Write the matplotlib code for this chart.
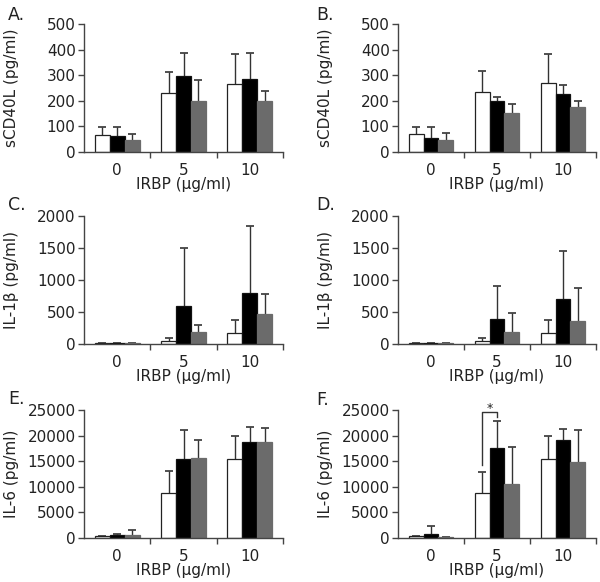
import matplotlib
matplotlib.use("Agg")
import matplotlib.pyplot as plt
import numpy as np

plt.rcParams['font.family'] = ['DejaVu Sans']

doses = ["0", "5", "10"]
xlabel_text = "IRBP (µg/ml)"

# Panel A
a_white = [68, 230, 266]
a_white_sd = [29, 83, 115]
a_black = [61, 295, 287]
a_black_sd = [36, 91, 99]
a_gray = [47, 201, 201]
a_gray_sd = [23, 81, 37]

# Panel B
b_white = [70, 233, 270]
b_white_sd = [26, 85, 114]
b_black = [53, 200, 228]
b_black_sd = [46, 14, 34]
b_gray = [46, 154, 175]
b_gray_sd = [29, 34, 26]

# Panel C
c_white = [15, 45, 171]
c_white_sd = [0, 45, 198]
c_black = [15, 597, 795]
c_black_sd = [0, 909, 1049]
c_gray = [10, 187, 468]
c_gray_sd = [0, 114, 311]

# Panel D
d_white = [15, 45, 171]
d_white_sd = [0, 43, 198]
d_black = [12, 390, 706]
d_black_sd = [0, 509, 743]
d_gray = [8, 187, 364]
d_gray_sd = [0, 296, 504]

# Panel E
e_white = [300, 8730, 15350]
e_white_sd = [0, 4260, 4530]
e_black = [550, 15420, 18700]
e_black_sd = [150, 5770, 3020]
e_gray = [500, 15620, 18830]
e_gray_sd = [1000, 3470, 2560]

# Panel F
f_white = [300, 8720, 15470]
f_white_sd = [0, 4250, 4520]
f_black = [800, 17560, 19200]
f_black_sd = [1500, 5370, 2100]
f_gray = [150, 10620, 14940]
f_gray_sd = [0, 7070, 6230]

# significance bracket in F (white vs black at dose 5)
f_bracket_y = [14260, 24610, 24610, 23630]
f_star = "*"

panels = [
    ("A.", "sCD40L (pg/ml)", [0, 100, 200, 300, 400, 500],
     (a_white, a_white_sd), (a_black, a_black_sd), (a_gray, a_gray_sd)),
    ("B.", "sCD40L (pg/ml)", [0, 100, 200, 300, 400, 500],
     (b_white, b_white_sd), (b_black, b_black_sd), (b_gray, b_gray_sd)),
    ("C.", "IL-1β (pg/ml)", [0, 500, 1000, 1500, 2000],
     (c_white, c_white_sd), (c_black, c_black_sd), (c_gray, c_gray_sd)),
    ("D.", "IL-1β (pg/ml)", [0, 500, 1000, 1500, 2000],
     (d_white, d_white_sd), (d_black, d_black_sd), (d_gray, d_gray_sd)),
    ("E.", "IL-6 (pg/ml)", [0, 5000, 10000, 15000, 20000, 25000],
     (e_white, e_white_sd), (e_black, e_black_sd), (e_gray, e_gray_sd)),
    ("F.", "IL-6 (pg/ml)", [0, 5000, 10000, 15000, 20000, 25000],
     (f_white, f_white_sd), (f_black, f_black_sd), (f_gray, f_gray_sd)),
]

W, H = 600, 582
fig = plt.figure(figsize=(6, 5.82), dpi=100)

col_x = [(84, 283), (398, 596)]
row_y = [(24, 152), (216, 344), (410, 538)]
label_pos = [(8, 15), (316, 15), (8, 205), (316, 205), (8, 399), (316, 400)]

axis_col = "#444444"
text_col = "#222222"
err_col = "#333333"
bar_w = 0.225
offsets = [-bar_w, 0, bar_w]
styles = [dict(color="white", edgecolor="#222222"),
          dict(color="black", edgecolor="#111111"),
          dict(color="#6b6b6b", edgecolor="#6b6b6b")]

axes = []
for i, (lab, ylab, yticks, *series) in enumerate(panels):
    c = i % 2
    r = i // 2
    x0, x1 = col_x[c]
    yt, yb = row_y[r]
    ax = fig.add_axes([x0 / W, 1 - yb / H, (x1 - x0) / W, (yb - yt) / H])
    axes.append(ax)
    x = np.arange(len(doses))
    for k, (vals, sd) in enumerate(series):
        xs = x + offsets[k]
        v = np.asarray(vals, float)
        tops = v + np.asarray(sd, float)
        ax.vlines(xs, v, tops, color=err_col, lw=1.0, zorder=1)
        ax.plot(xs, tops, ls="none", marker="_", ms=5.5, mew=1.2,
                color=err_col, zorder=1)
        ax.bar(xs, vals, width=bar_w, linewidth=0.9, zorder=2, **styles[k])
    ax.set_xlim(-0.5, 2.5)
    ax.set_ylim(0, yticks[-1])
    ax.set_yticks(yticks)
    ax.set_yticklabels([str(t) for t in yticks], fontsize=11, color=text_col)
    ax.set_xticks([0.5, 1.5, 2.5])
    ax.set_xticklabels([])
    ax.set_xticks(x, minor=True)
    ax.set_xticklabels(doses, minor=True, fontsize=11, color=text_col)
    ax.tick_params(axis="x", which="minor", length=0, pad=8)
    ax.tick_params(axis="x", which="major", length=4, width=1, color=axis_col, direction="out")
    ax.tick_params(axis="y", length=4, width=1, color=axis_col, direction="out", pad=2)
    for s in ["top", "right"]:
        ax.spines[s].set_visible(False)
    for s in ["left", "bottom"]:
        ax.spines[s].set_color(axis_col)
        ax.spines[s].set_linewidth(1.0)
    ax.set_xlabel(xlabel_text, fontsize=11, color=text_col, labelpad=-1)
    ax.set_ylabel(ylab, fontsize=11, color=text_col, labelpad=2)
    ax.yaxis.set_label_coords(((19 if c == 0 else 333) - x0) / (x1 - x0), 0.5)
    fig.text(label_pos[i][0] / W, 1 - label_pos[i][1] / H, lab, fontsize=12.5,
             color=text_col, ha="left", va="center")

# bracket in F
axF = axes[5]
bx = [1 + offsets[0], 1 + offsets[0], 1 + offsets[1], 1 + offsets[1]]
axF.plot(bx, f_bracket_y, color=err_col, lw=1.0, clip_on=False, zorder=3)
axF.text(1 + (offsets[0] + offsets[1]) / 2, f_bracket_y[1] - 500, f_star,
         ha="center", va="bottom", fontsize=9, color=text_col, clip_on=False)

fig.savefig("out.png", dpi=100, facecolor="white")
